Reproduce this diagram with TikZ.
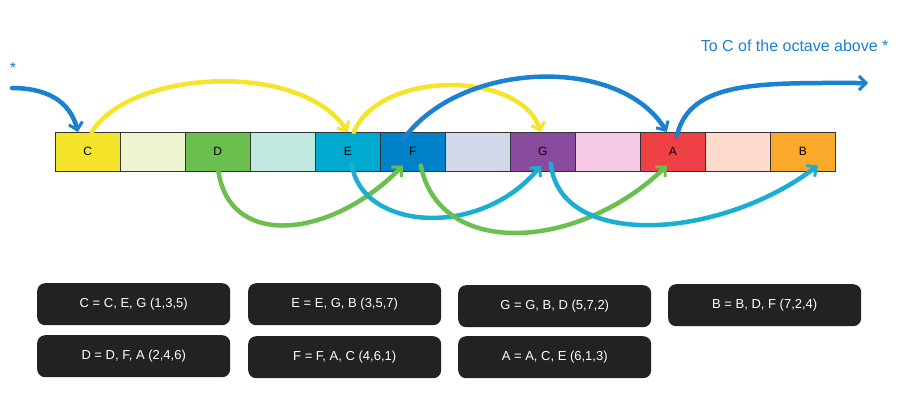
\documentclass[tikz,border=0pt]{standalone}
\usepackage{fontspec}
\setmainfont{Liberation Sans}
\usetikzlibrary{arrows.meta}
\definecolor{cC}{HTML}{F5E52A}\definecolor{c1}{HTML}{EEF5D0}
\definecolor{cD}{HTML}{6BBF4E}\definecolor{c2}{HTML}{BFE8E0}
\definecolor{cE}{HTML}{00A9CE}\definecolor{cF}{HTML}{0082CA}
\definecolor{c3}{HTML}{D0D8EA}\definecolor{cG}{HTML}{8A4B9E}
\definecolor{c4}{HTML}{F5C8E4}\definecolor{cA}{HTML}{EE4045}
\definecolor{c5}{HTML}{FDDACC}\definecolor{cB}{HTML}{FAA92A}
\definecolor{ablue}{HTML}{1A82D0}\definecolor{acyan}{HTML}{1AAFD0}
\definecolor{ayel}{HTML}{F5E52A}\definecolor{agreen}{HTML}{6BBF4E}
\definecolor{dark}{HTML}{222222}
\begin{document}
\begin{tikzpicture}[x=1pt,y=-1pt,
  key/.style={draw=black!80,line width=0.6pt,minimum width=65pt,minimum height=39pt,inner sep=0pt,anchor=north west,font=\fontsize{12}{12}\selectfont},
  chord/.style={fill=dark,rounded corners=8pt,minimum width=193pt,minimum height=42pt,text=white,font=\fontsize{13}{13}\selectfont,anchor=north west},
  arr/.style={line width=4.5pt,line cap=round,-{Straight Barb[length=7pt,width=14pt,line width=3pt]}}]
\useasboundingbox (0,0) rectangle (900,400);
\foreach \n/\c/\t [count=\i from 0] in {kC/cC/C,k1/c1/,kD/cD/D,k2/c2/,kE/cE/E,kF/cF/F,k3/c3/,kG/cG/G,k4/c4/,kA/cA/A,k5/c5/,kB/cB/B}
  \node[key,fill=\c] (\n) at ({55+65*\i},132) {\t};
\node[text=ablue,font=\fontsize{16}{16}\selectfont,anchor=east] (title) at (892,46) {To C of the octave above *};
\node[text=ablue,font=\fontsize{16}{16}\selectfont] (star) at (13,68) {*};
\coordinate (s0) at (12,88);
\coordinate (out) at (868,83);
\draw[arr,ablue] (s0) .. controls (45,88) and (70,100) .. ([xshift=-10pt]kC.north);
\draw[arr,ayel] ([xshift=4pt]kC.north) .. controls (130,70) and (300,60) .. ([xshift=0pt]kE.north);
\draw[arr,ayel] ([xshift=6pt]kE.north) .. controls (380,70) and (520,70) .. ([xshift=-2pt]kG.north);
\draw[arr,ablue] ([xshift=-10pt,yshift=-8pt]kF.north) .. controls (460,60) and (620,55) .. ([xshift=-6pt]kA.north);
\draw[arr,ablue] ([xshift=4pt,yshift=-4pt]kA.north) .. controls (690,80) and (760,83) .. (out);
\draw[arr,agreen] ([yshift=6pt]kD.south) .. controls (225,250) and (330,240) .. ([xshift=-10pt,yshift=6pt]kF.south);
\draw[arr,acyan] ([xshift=4pt,yshift=8pt]kE.south) .. controls (360,230) and (480,240) .. ([xshift=-2pt,yshift=6pt]kG.south);
\draw[arr,agreen] ([xshift=8pt,yshift=6pt]kF.south) .. controls (440,260) and (580,250) .. ([xshift=-6pt,yshift=6pt]kA.south);
\draw[arr,acyan] ([xshift=8pt,yshift=8pt]kG.south) .. controls (560,250) and (720,240) .. ([xshift=15pt,yshift=6pt]kB.south);
\node[chord] (n1) at (37,283) {C = C, E, G (1,3,5)};
\node[chord] (n2) at (248,283) {E = E, G, B (3,5,7)};
\node[chord] (n3) at (458,285) {G = G, B, D (5,7,2)};
\node[chord] (n4) at (668,284) {B = B, D, F (7,2,4)};
\node[chord] (n5) at (37,335) {D = D, F, A (2,4,6)};
\node[chord] (n6) at (248,336) {F = F, A, C (4,6,1)};
\node[chord] (n7) at (458,336) {A = A, C, E (6,1,3)};
\end{tikzpicture}
\end{document}
